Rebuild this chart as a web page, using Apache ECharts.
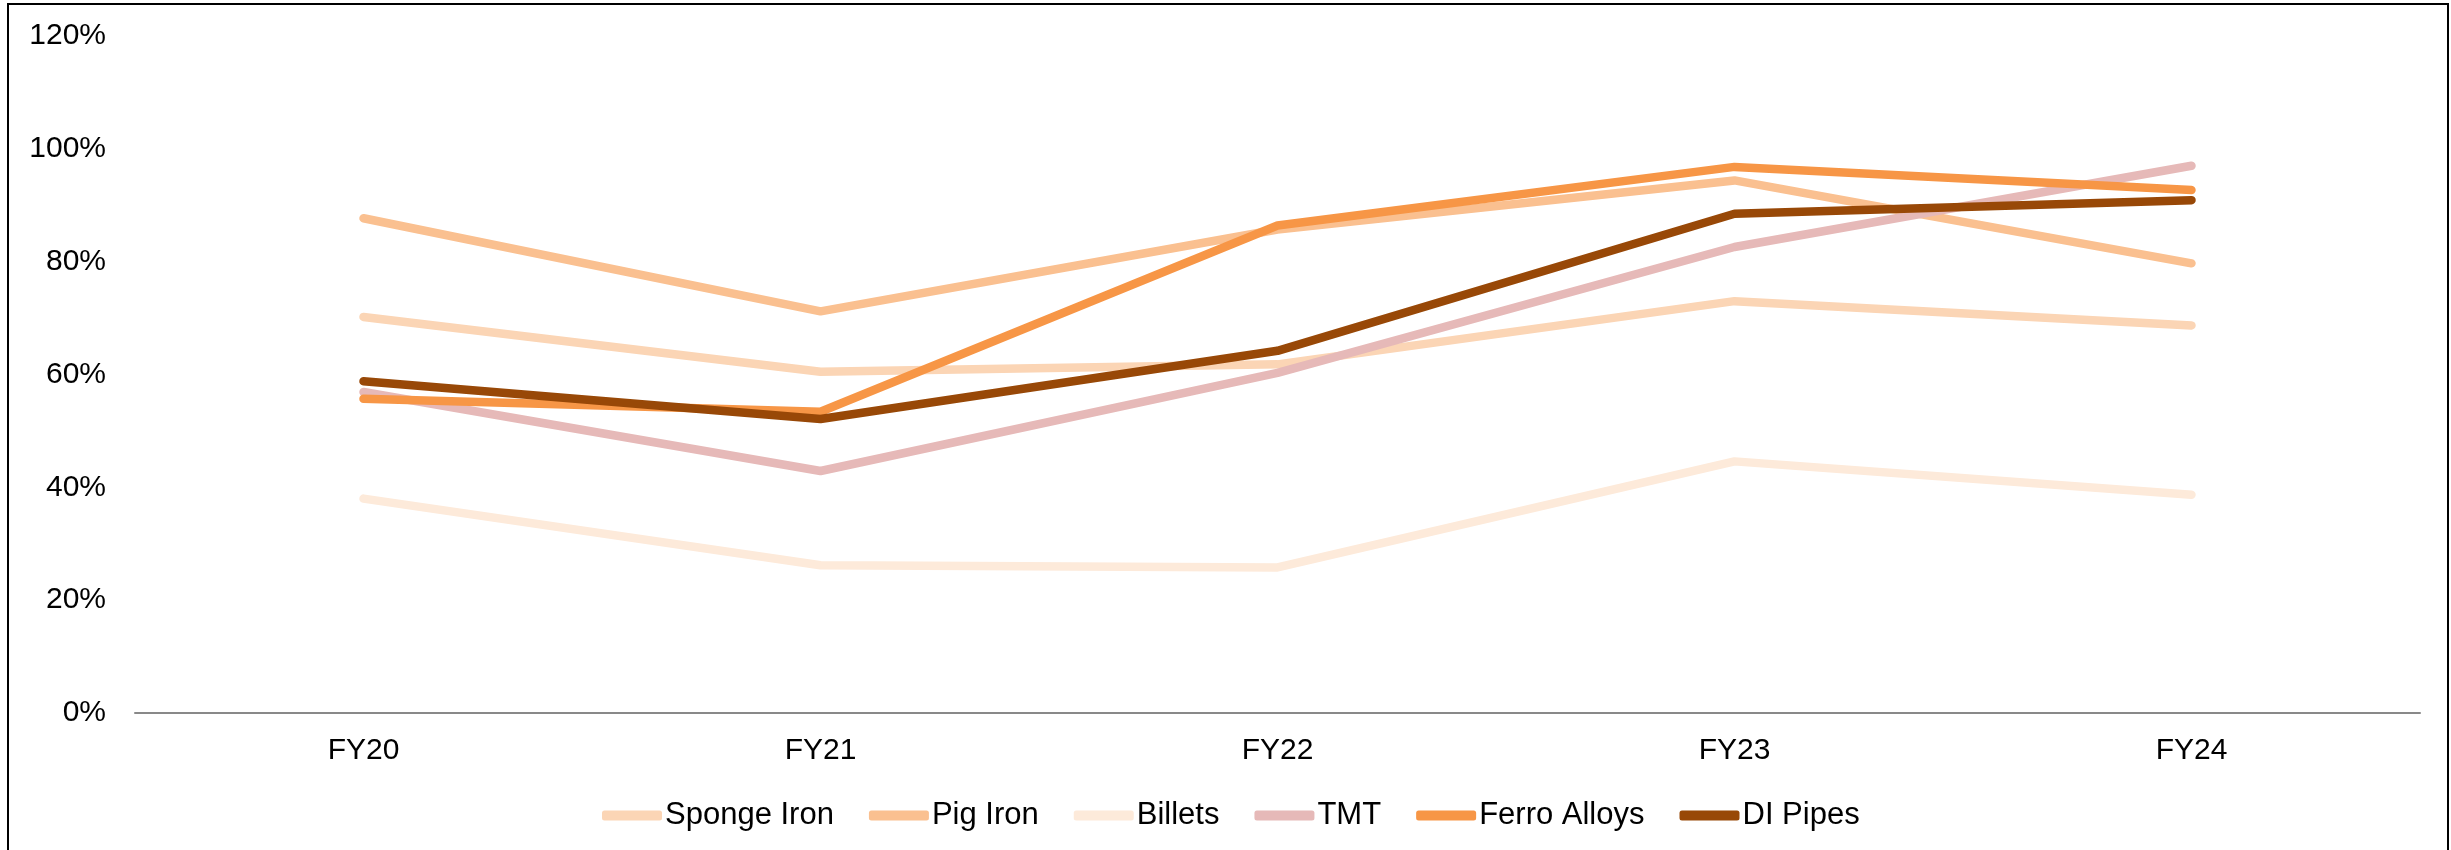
<!DOCTYPE html>
<html>
<head>
<meta charset="utf-8">
<script src="https://cdn.jsdelivr.net/npm/echarts@6/dist/echarts.min.js"></script>
<style>
html,body{margin:0;padding:0;background:#fff;}
#chart{width:2451px;height:850px;}
</style>
</head>
<body>
<div id="chart"></div>
<script>
const categories = ['FY20', 'FY21', 'FY22', 'FY23', 'FY24'];
const spongeIron = [70.2, 60.5, 61.8, 73.0, 68.7];
const pigIron = [87.7, 71.2, 85.7, 94.4, 79.7];
const billets = [38.0, 26.2, 25.8, 44.6, 38.7];
const tmt = [56.9, 42.9, 60.3, 82.6, 97.0];
const ferroAlloys = [55.7, 53.4, 86.4, 96.8, 92.7];
const diPipes = [58.8, 52.1, 64.2, 88.5, 90.9];
const yTicks = [0, 20, 40, 60, 80, 100, 120];

const seriesDefs = [
  ['Sponge Iron', spongeIron, '#FBD5B5'],
  ['Pig Iron', pigIron, '#FAC090'],
  ['Billets', billets, '#FDEADA'],
  ['TMT', tmt, '#E6B9B8'],
  ['Ferro Alloys', ferroAlloys, '#F79646'],
  ['DI Pipes', diPipes, '#984807']
];

const chart = echarts.init(document.getElementById('chart'), null, {renderer: 'canvas'});
const font = 'Liberation Sans, Arial, sans-serif';
chart.setOption({
  backgroundColor: '#ffffff',
  animation: false,
  color: seriesDefs.map(d => d[2]),
  grid: {left: 135, right: 31, top: 36, bottom: 137, containLabel: false},
  legend: {
    left: 597, top: 795,
    itemWidth: 60, itemHeight: 10, itemGap: 35,
    icon: 'roundRect',
    textStyle: {fontFamily: font, fontSize: 31, color: '#000', padding: [0, 0, 0, -2]},
    data: seriesDefs.map(d => d[0])
  },
  xAxis: {
    type: 'category',
    data: categories,
    boundaryGap: true,
    axisLine: {lineStyle: {color: '#898989', width: 2}},
    axisTick: {show: false},
    axisLabel: {fontFamily: font, fontSize: 30, color: '#000', margin: 23},
    splitLine: {show: false}
  },
  yAxis: {
    type: 'value',
    min: yTicks[0], max: yTicks[yTicks.length - 1], interval: 20,
    axisLine: {show: false},
    axisTick: {show: false},
    splitLine: {show: false},
    axisLabel: {fontFamily: font, fontSize: 30, color: '#000', margin: 29,
      formatter: v => v + '%'}
  },
  series: seriesDefs.map(d => ({
    name: d[0],
    type: 'line',
    data: d[1],
    symbol: 'none',
    lineStyle: {width: 8.5, color: d[2], cap: 'round', join: 'round'},
    itemStyle: {color: d[2]}
  })),
  graphic: [{
    type: 'rect',
    shape: {x: 8, y: 4, width: 2440, height: 900},
    style: {fill: 'none', stroke: '#000', lineWidth: 2},
    silent: true
  }]
});
</script>
</body>
</html>
